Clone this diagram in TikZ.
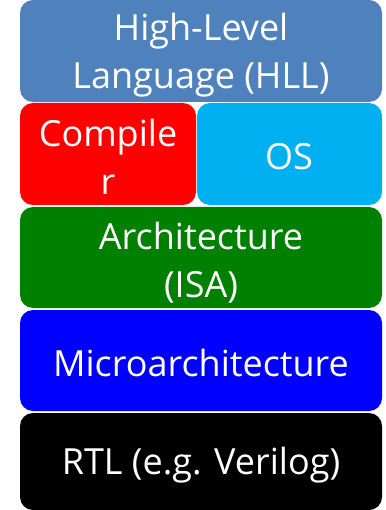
\documentclass[tikz,border=0pt]{standalone}
\usepackage{fontspec}
\setmainfont{Open Sans}
\definecolor{hllblue}{RGB}{79,129,189}
\definecolor{osblue}{RGB}{0,176,240}
\definecolor{isagreen}{RGB}{0,128,0}
\begin{document}
\begin{tikzpicture}[x=1pt,y=-1pt,
  layer/.style={text=white, align=center,
    font=\fontsize{36}{48}\selectfont, inner sep=0pt},
  slab/.style={rounded corners=13pt}]
  \useasboundingbox (0,0) rectangle (385,510);
  % stacked abstraction layers
  \path[slab, fill=hllblue] (20,0) rectangle (382,102);
  \node[layer] (hll) at (201,55) {High-Level\\Language (HLL)};
  \path[slab, fill=red] (20,103) rectangle (196,205);
  \node[layer] (comp) at (108,157) {Compile\\r};
  \path[slab, fill=osblue] (197,103) rectangle (382,205);
  \node[layer] (os) at (289,157) {OS};
  \path[slab, fill=isagreen] (20,207) rectangle (382,308);
  \node[layer] (isa) at (201,263) {Architecture\\(ISA)};
  \path[slab, fill=blue] (20,310) rectangle (382,411);
  \node[layer] (uarch) at (201,363) {Microarchitecture};
  \path[slab, fill=black] (20,413) rectangle (382,510);
  \node[layer] (rtl) at (201,465) {RTL (e.g. Verilog)};
\end{tikzpicture}
\end{document}
